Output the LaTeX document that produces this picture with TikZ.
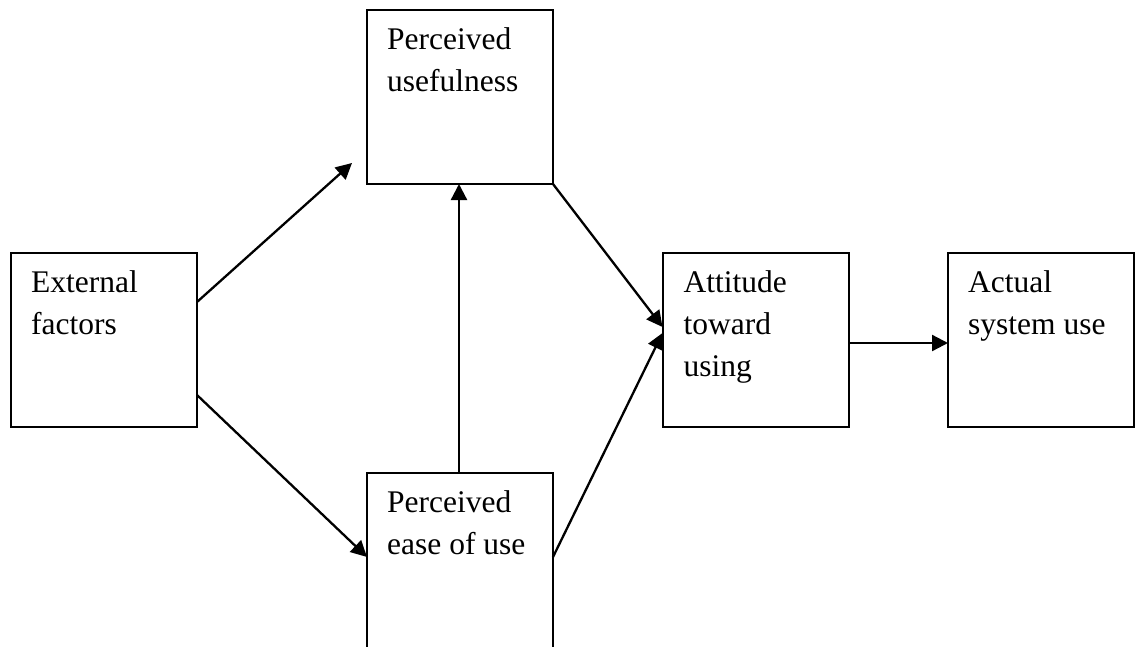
\documentclass[tikz,border=0pt]{standalone}
\usepackage{fontspec}
\setmainfont{Liberation Serif}
\usetikzlibrary{arrows.meta,calc}
\begin{document}
\begin{tikzpicture}[x=1pt,y=-1pt,
  box/.style={draw,line width=2pt,rectangle,inner sep=0pt,outer sep=0pt,anchor=north west,minimum width=186pt,minimum height=174pt},
  lbl/.style={anchor=north west,inner sep=0pt,align=left,font=\fontsize{31.5}{42}\selectfont},
  conn/.style={line width=2.3pt,-{Triangle[length=16pt,width=16pt]}}]
\useasboundingbox (0,0) rectangle (1136,646);
% boxes
\node[box] (ext)  at (11,253)  {};
\node[box] (use)  at (367,10)  {};
\node[box,minimum height=200pt] (ease) at (367,473) {};
\node[box] (att)  at (662.5,253) {};
\node[box] (act)  at (948,253) {};
% labels
\node[lbl] (extT)  at ($(ext.north west)+(20,10)$)  {\strut External\\factors};
\node[lbl] (useT)  at ($(use.north west)+(20,10)$)  {\strut Perceived\\usefulness};
\node[lbl] (easeT) at ($(ease.north west)+(20,10)$) {\strut Perceived\\ease of use};
\node[lbl] (attT)  at ($(att.north west)+(21,10)$)  {\strut Attitude\\toward\\using};
\node[lbl] (actT)  at ($(act.north west)+(20,10)$)  {\strut Actual\\system use};
% connectors
\coordinate (t1) at (352,163);
\draw[conn] ($(ext.north east)+(0,49)$) -- (t1);
\draw[conn] ($(ext.north east)+(0,142)$) -- ($(ease.north west)+(0,84)$);
\draw[conn] ($(ease.north west)+(92,0)$) -- ($(use.south west)+(92,0)$);
\draw[conn] (use.south east) -- ($(att.north west)+(0,74)$);
\draw[conn] ($(ease.north east)+(0,84)$) -- ($(att.north west)+(0,80)$);
\draw[conn] ($(att.north east)+(0,90)$) -- ($(act.north west)+(0,90)$);
\end{tikzpicture}
\end{document}
